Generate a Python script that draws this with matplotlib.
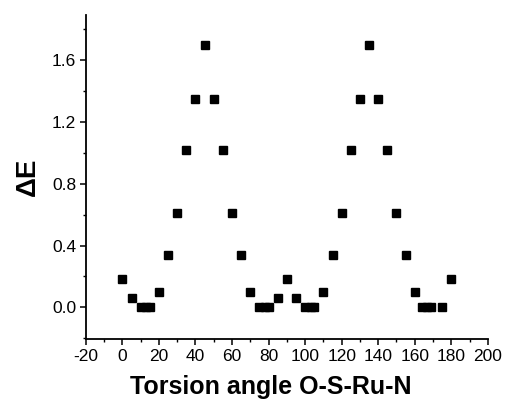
import matplotlib.pyplot as plt
from matplotlib.ticker import MultipleLocator

plt.rcParams['font.family'] = ['Liberation Sans', 'DejaVu Sans']
plt.rcParams['axes.unicode_minus'] = False

# torsion angle (deg) and relative energy
angle = [0, 5, 10, 13, 15, 20, 25, 30, 35, 40, 45, 50, 55, 60, 65, 70,
         75, 78, 80, 85, 90, 95, 100, 103, 105, 110, 115, 120, 125, 130,
         135, 140, 145, 150, 155, 160, 164, 166.5, 169, 175, 180]
dE = [0.18, 0.06, 0.0, 0.0, 0.0, 0.10, 0.34, 0.61, 1.02, 1.35, 1.70, 1.35,
      1.02, 0.61, 0.34, 0.10, 0.0, 0.0, 0.0, 0.06, 0.18, 0.06, 0.0, 0.0,
      0.0, 0.10, 0.34, 0.61, 1.02, 1.35, 1.70, 1.35, 1.02, 0.61, 0.34,
      0.10, 0.0, 0.0, 0.0, 0.0, 0.18]

fig = plt.figure(figsize=(5.05, 4.04), dpi=100)
ax = fig.add_axes([0.170, 0.161, 0.796, 0.802])

ax.plot(angle, dE, 's', color='black', ms=6, mec='black')

ax.set_xlim(-20, 200)
ax.set_ylim(-0.205, 1.893)
ax.xaxis.set_major_locator(MultipleLocator(20))
ax.xaxis.set_minor_locator(MultipleLocator(10))
ax.yaxis.set_major_locator(MultipleLocator(0.4))
ax.yaxis.set_minor_locator(MultipleLocator(0.2))
ax.yaxis.set_major_formatter(plt.FuncFormatter(lambda v, p: f"{v:.1f}"))

for s in ['top', 'right']:
    ax.spines[s].set_visible(False)
for s in ['left', 'bottom']:
    ax.spines[s].set_linewidth(1.3)

ax.tick_params(which='major', direction='out', length=4, width=1.1,
               labelsize=12.5, pad=3)
ax.tick_params(which='minor', direction='out', length=2.5, width=1.0)

ax.set_xlabel('Torsion angle O-S-Ru-N', fontsize=18, fontweight='bold',
              labelpad=8)
ax.xaxis.label.set_x(0.46)
ax.set_ylabel('ΔE', fontsize=20, fontweight='bold', labelpad=8)

plt.savefig('out.png', dpi=100)
